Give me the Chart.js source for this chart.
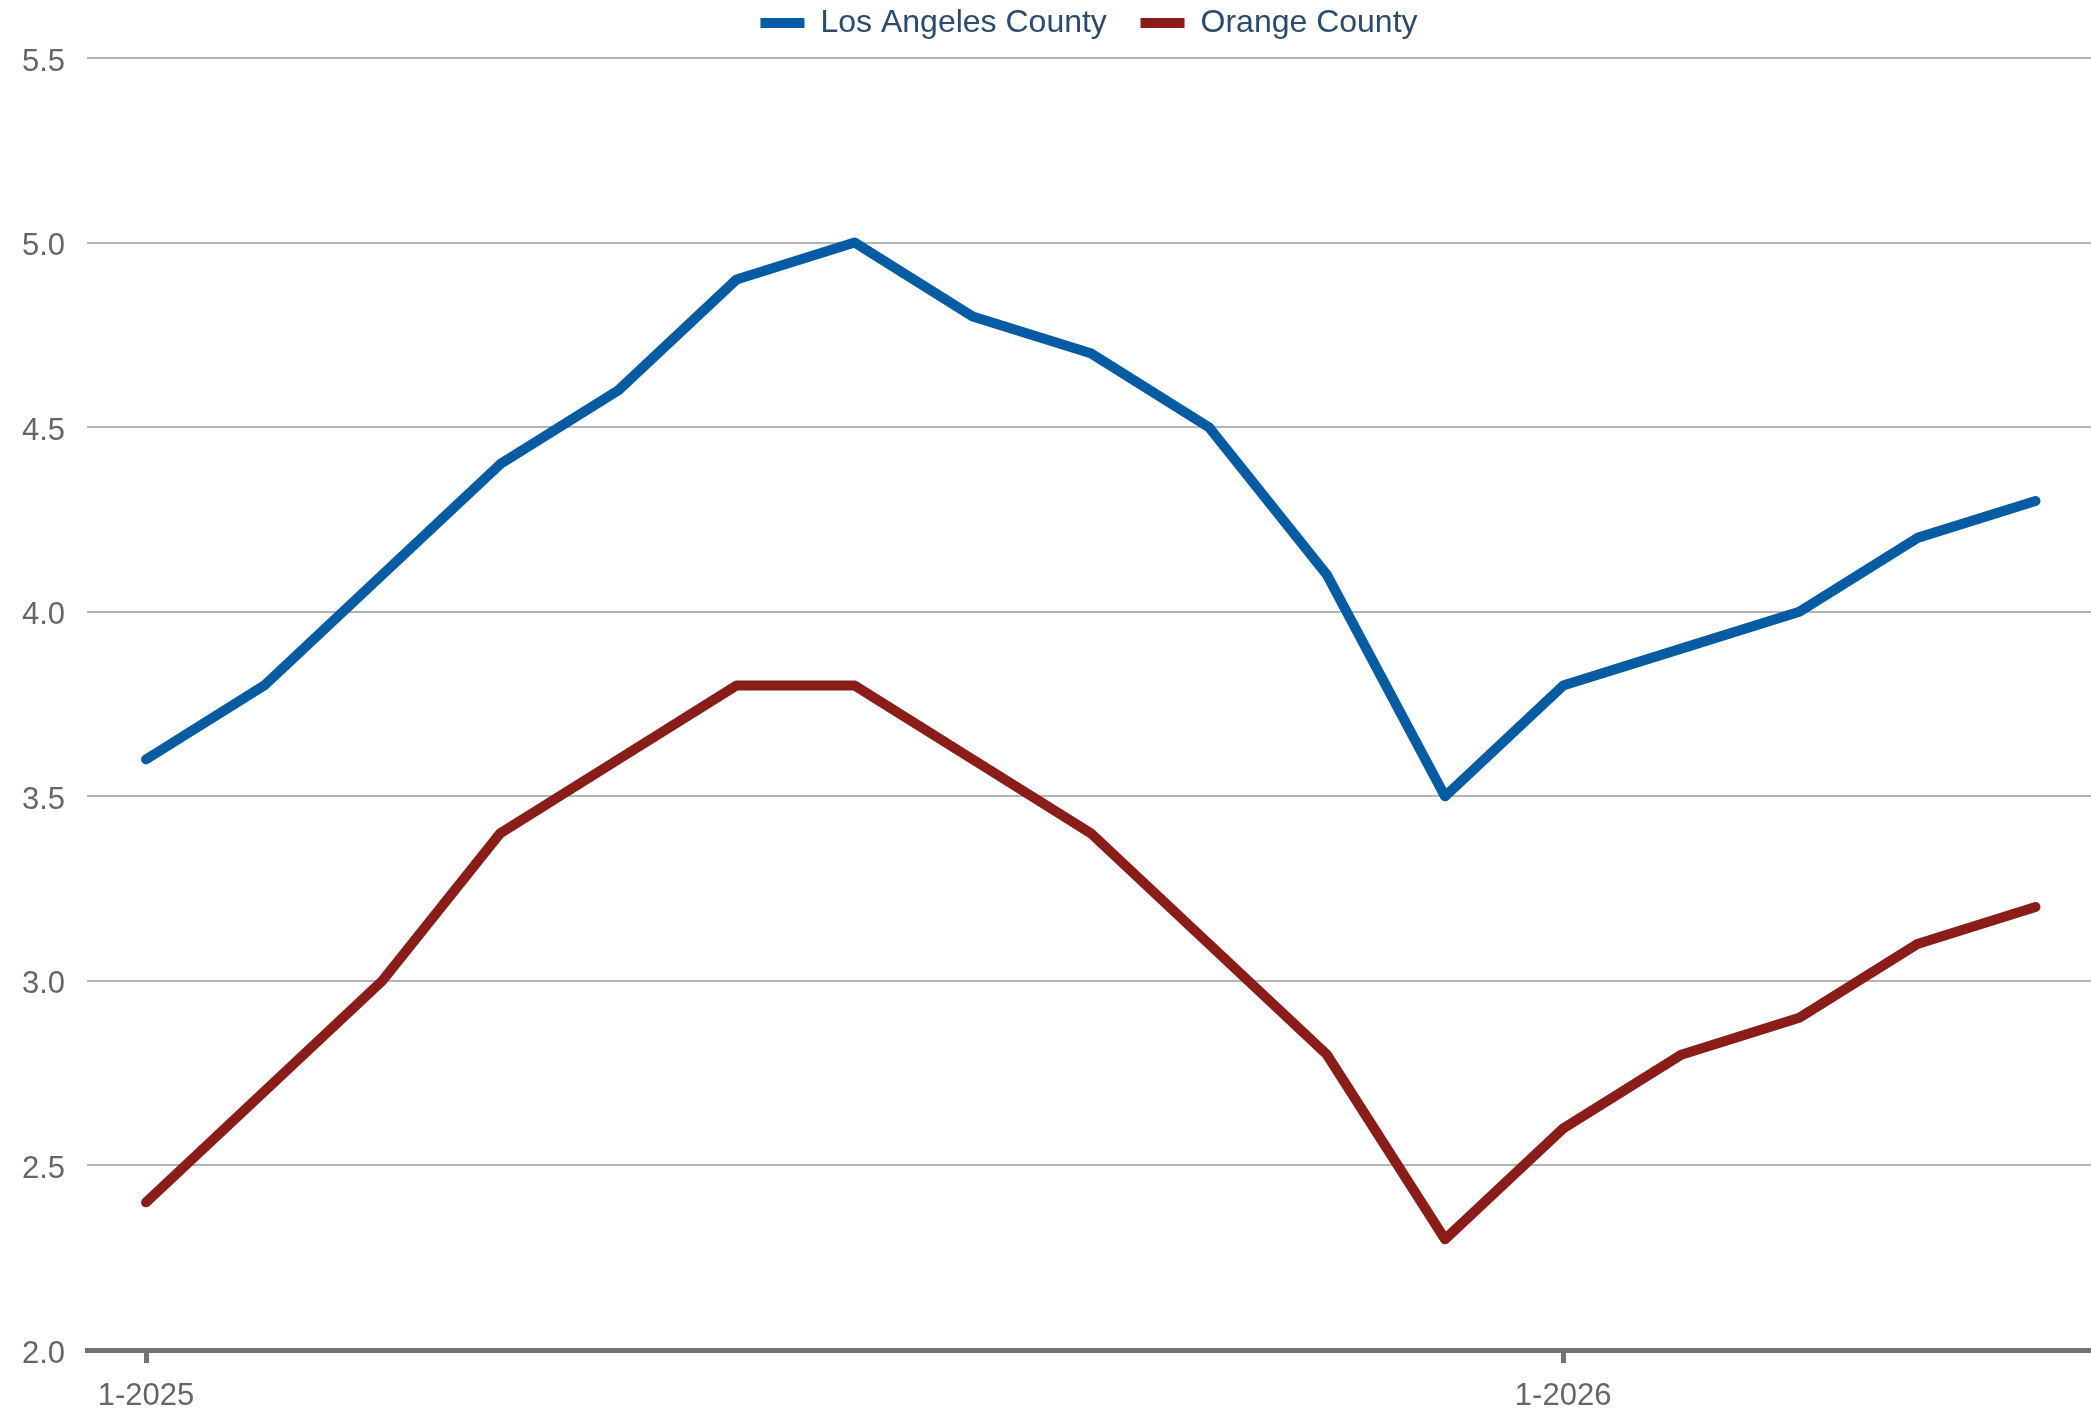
<!DOCTYPE html>
<html>
<head>
<meta charset="utf-8">
<script src="https://cdn.jsdelivr.net/npm/chart.js@4/dist/chart.umd.min.js"></script>
<style>
  html, body { margin: 0; padding: 0; background: #fff; }
  #wrap { width: 2091px; height: 1410px; position: relative; }
</style>
</head>
<body>
<div id="wrap"><canvas id="chart"></canvas></div>
<script>
// months from 1-2025 to 5-2026
const months = ['1-2025', '2-2025', '3-2025', '4-2025', '5-2025', '6-2025', '7-2025', '8-2025',
  '9-2025', '10-2025', '11-2025', '12-2025', '1-2026', '2-2026', '3-2026', '4-2026', '5-2026'];
const losAngeles = [3.6, 3.8, 4.1, 4.4, 4.6, 4.9, 5.0, 4.8, 4.7, 4.5, 4.1, 3.5, 3.8, 3.9, 4.0, 4.2, 4.3];
const orange = [2.4, 2.7, 3.0, 3.4, 3.6, 3.8, 3.8, 3.6, 3.4, 3.1, 2.8, 2.3, 2.6, 2.8, 2.9, 3.1, 3.2];
const seriesNames = ['Los Angeles County', 'Orange County'];
const seriesColors = ['#065ca3', '#8a1d18'];
const xTickMonths = ['1-2025', '1-2026'];

const FONT = '"Liberation Sans", Arial, Helvetica, sans-serif';

const toPoints = vals => vals.map((v, i) => ({x: i, y: v}));

// push the plot down below the legend
const legendGap = {
  id: 'legendGap',
  afterInit(chart) {
    const fit = chart.legend.fit;
    chart.legend.fit = function () {
      fit.call(this);
      this.height = 58;
    };
  }
};

new Chart(document.getElementById('chart'), {
  type: 'line',
  data: {
    datasets: [losAngeles, orange].map((vals, i) => ({
      label: seriesNames[i],
      data: toPoints(vals),
      borderColor: seriesColors[i],
      backgroundColor: seriesColors[i],
      borderWidth: 10,
      borderCapStyle: 'round',
      borderJoinStyle: 'round',
      pointRadius: 0,
      tension: 0
    }))
  },
  options: {
    responsive: true,
    maintainAspectRatio: false,
    animation: false,
    devicePixelRatio: 1,
    layout: { padding: 0 },
    plugins: {
      tooltip: { enabled: false },
      legend: {
        position: 'top',
        fullSize: false,
        labels: {
          boxWidth: 44,
          boxHeight: 10,
          padding: 7,
          color: '#2c4a6b',
          font: { family: FONT, size: 32 },
          generateLabels(chart) {
            return chart.data.datasets.map((ds, i) => ({
              text: i === 0 ? ds.label + '   ' : ds.label,
              fillStyle: ds.borderColor,
              strokeStyle: ds.borderColor,
              lineWidth: 0,
              fontColor: '#2c4a6b',
              datasetIndex: i,
              hidden: false
            }));
          }
        }
      }
    },
    scales: {
      x: {
        type: 'linear',
        min: -0.5,
        max: 16.47,
        afterBuildTicks(scale) {
          scale.ticks = xTickMonths.map(m => ({value: months.indexOf(m)}));
        },
        afterFit(scale) { scale.height = 60; },
        ticks: {
          color: '#666666',
          font: { family: FONT, size: 31 },
          padding: 15,
          maxRotation: 0,
          autoSkip: false,
          callback: v => months[v]
        },
        grid: {
          drawOnChartArea: false,
          drawTicks: true,
          tickLength: 13,
          tickWidth: 5,
          tickColor: '#737373'
        },
        border: { display: true, color: '#737373', width: 5 }
      },
      y: {
        min: 2,
        max: 5.5,
        afterFit(scale) { scale.width = 87; },
        ticks: {
          stepSize: 0.5,
          color: '#666666',
          font: { family: FONT, size: 31 },
          padding: 22,
          labelOffset: 4,
          callback: v => v.toFixed(1)
        },
        grid: {
          color: '#b4b4b4',
          lineWidth: 2,
          drawTicks: false
        },
        border: { display: false }
      }
    }
  },
  plugins: [legendGap]
});
</script>
</body>
</html>
